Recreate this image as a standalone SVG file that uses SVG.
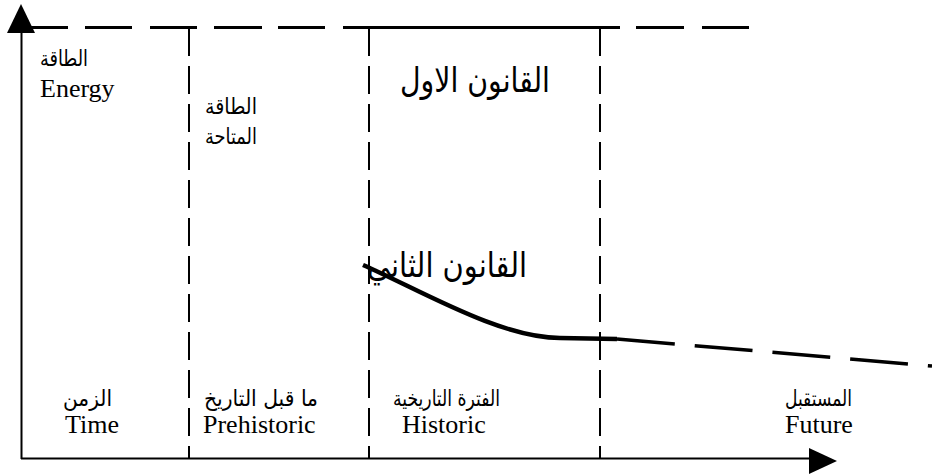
<svg xmlns="http://www.w3.org/2000/svg" width="932" height="475" viewBox="0 0 932 475">
<style>
.lat{font-family:"Liberation Serif","Times New Roman",serif;font-size:26px;fill:#000}
.ar{font-family:"DejaVu Sans","Noto Sans",sans-serif;font-size:22px;fill:#000}
.arl{font-family:"DejaVu Sans","Noto Sans",sans-serif;font-size:34px;fill:#000}
.vdash{stroke:#000;stroke-width:2;stroke-dasharray:28 10;fill:none}
.axis{stroke:#000;stroke-width:2;fill:none}
</style>
<rect width="932" height="475" fill="#fff"/>
<g id="connectors">
  <path class="axis" d="M21.5,459 V30"/>
  <polygon points="21,4 7,33 35,33" fill="#000"/>
  <path class="axis" d="M21,458.5 H812"/>
  <polygon points="837,461 809,448 809,474" fill="#000"/>
  <path d="M21,27.5 H68 M85,27.5 H132 M150,27.5 H197 M214,27.5 H262 M278,27.5 H325 M343,27.5 H620 M636,27.5 H684 M702,27.5 H749" stroke="#000" stroke-width="3" fill="none"/>
  <path class="vdash" d="M189,28 V458"/>
  <path class="vdash" d="M369,28 V458"/>
  <path class="vdash" d="M600,28 V458"/>
  <path d="M363,265 C420,290 500,338 560,338 L617,339" stroke="#000" stroke-width="4.5" fill="none"/>
  <path d="M617,339 L932,366" stroke="#000" stroke-width="3.5" stroke-dasharray="58 20" fill="none"/>
</g>
<g id="energy-label">
  <text class="ar" x="40" y="66" textLength="48" lengthAdjust="spacingAndGlyphs">الطاقة</text>
  <text class="lat" x="40" y="97">Energy</text>
</g>
<g id="available-energy">
  <text class="ar" x="205" y="114" textLength="52" lengthAdjust="spacingAndGlyphs">الطاقة</text>
  <text class="ar" x="205" y="144" textLength="52" lengthAdjust="spacingAndGlyphs">المتاحة</text>
</g>
<g id="first-law">
  <text class="arl" x="400" y="92" textLength="150" lengthAdjust="spacingAndGlyphs">القانون الاول</text>
</g>
<g id="second-law">
  <text class="arl" x="367" y="277" textLength="160" lengthAdjust="spacingAndGlyphs">القانون الثاني</text>
</g>
<g id="time">
  <text class="ar" x="63" y="406" textLength="49" lengthAdjust="spacingAndGlyphs">الزمن</text>
  <text class="lat" x="65" y="433">Time</text>
</g>
<g id="prehistoric">
  <text class="ar" x="204" y="406" textLength="114" lengthAdjust="spacingAndGlyphs">ما قبل التاريخ</text>
  <text class="lat" x="203" y="433">Prehistoric</text>
</g>
<g id="historic">
  <text class="ar" x="393" y="406" textLength="107" lengthAdjust="spacingAndGlyphs">الفترة التاريخية</text>
  <text class="lat" x="402" y="433">Historic</text>
</g>
<g id="future">
  <text class="ar" x="785" y="406" textLength="67" lengthAdjust="spacingAndGlyphs">المستقبل</text>
  <text class="lat" x="785" y="433">Future</text>
</g>
</svg>
